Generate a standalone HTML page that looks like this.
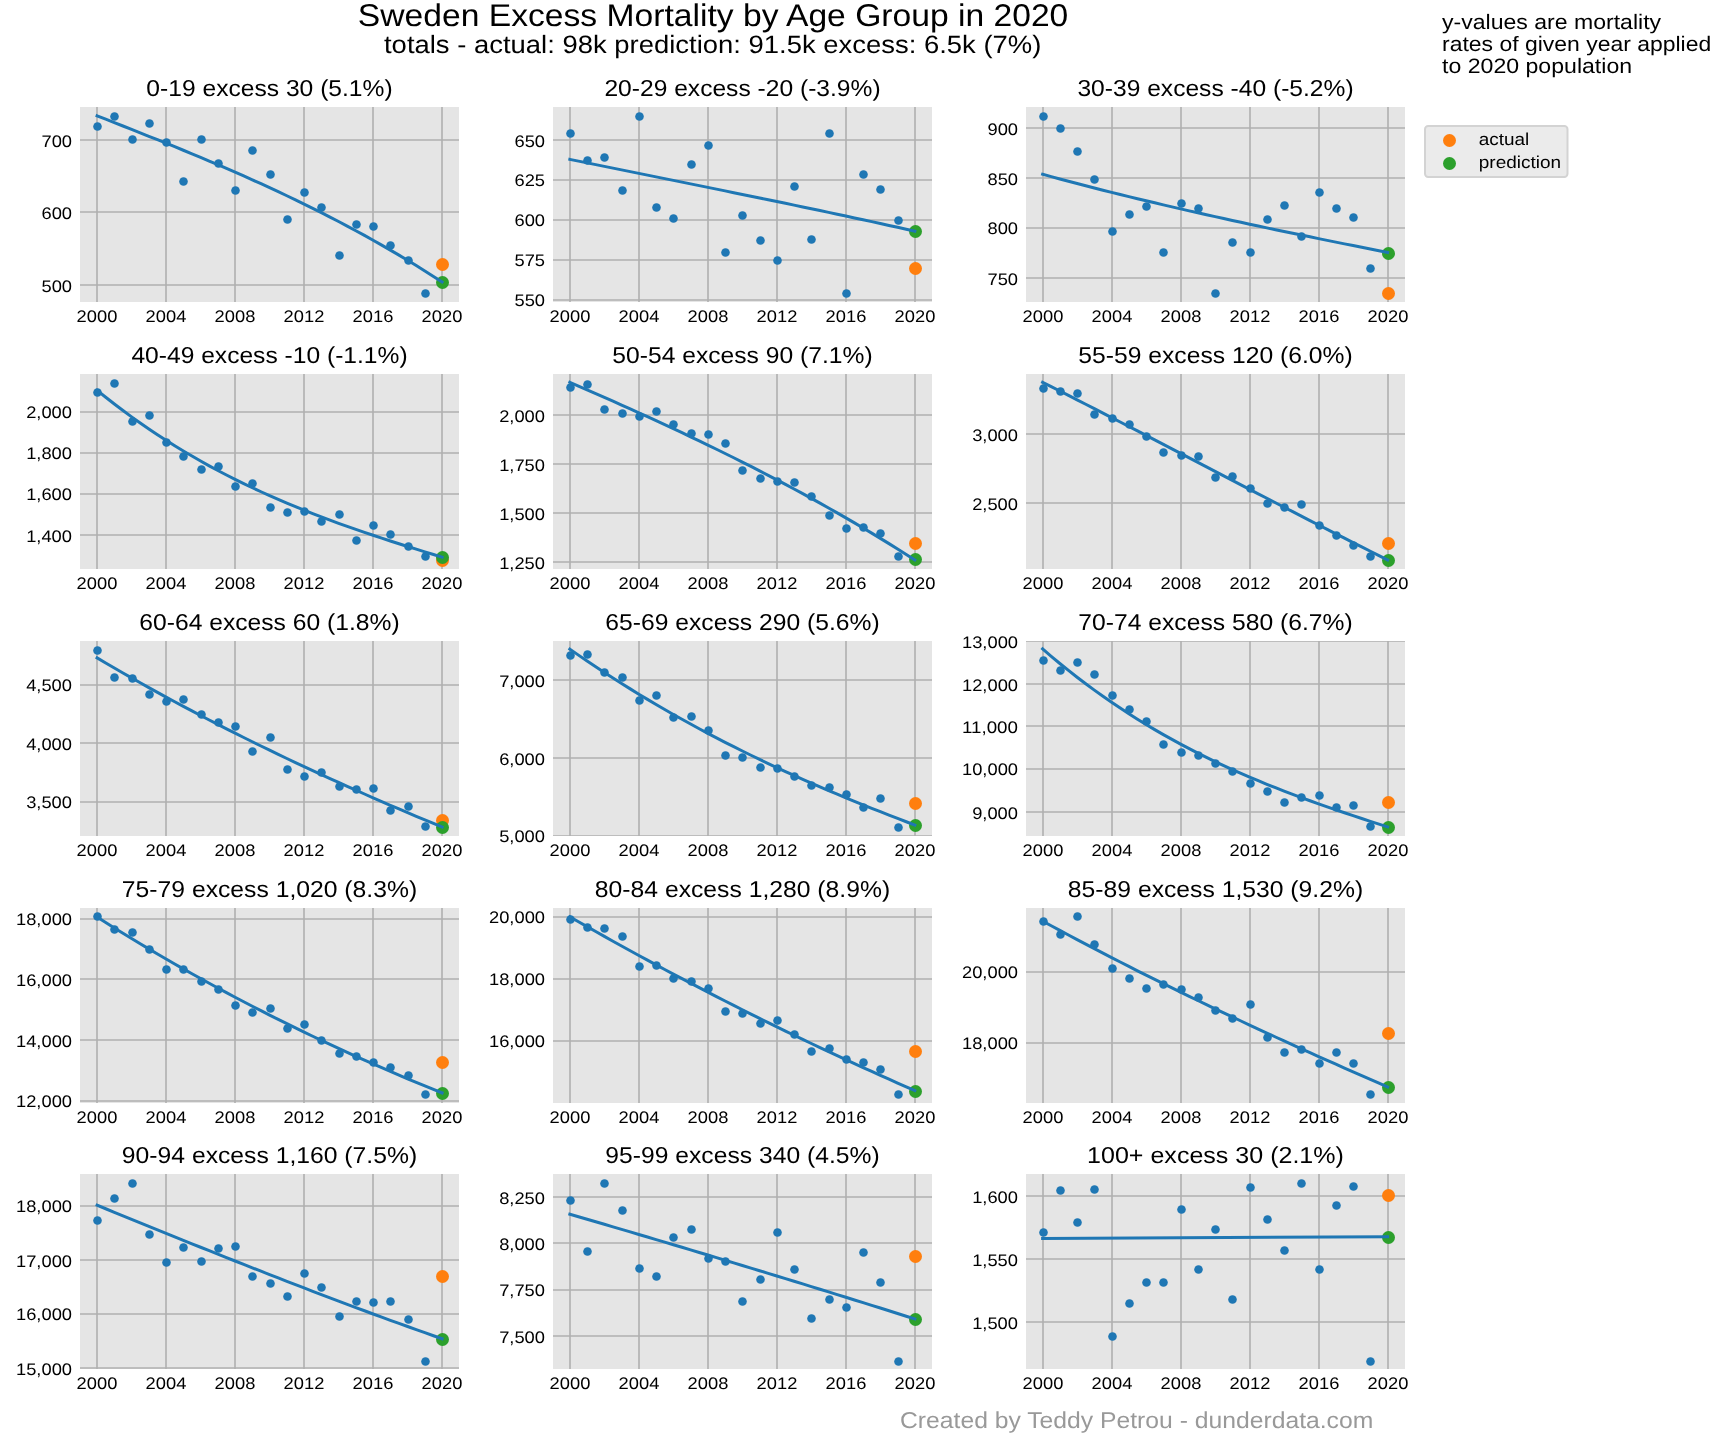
<!DOCTYPE html>
<html><head><meta charset="utf-8"><title>Sweden Excess Mortality by Age Group in 2020</title>
<style>
html,body{margin:0;padding:0;background:#fff;overflow:hidden;}
svg{display:block;will-change:transform;}
text{font-family:"Liberation Sans",sans-serif;text-rendering:geometricPrecision;}
</style></head>
<body>
<svg width="1726" height="1446" viewBox="0 0 1726 1446">
<rect x="0" y="0" width="1726" height="1446" fill="#ffffff"/>
<g>
<rect x="80" y="107" width="379" height="195" fill="#e5e5e5"/>
<clipPath id="c00"><rect x="80" y="107" width="379" height="195"/></clipPath>
<path d="M97.00,107V302M166.00,107V302M235.00,107V302M304.00,107V302M373.00,107V302M442.00,107V302M80,140H459M80,212H459M80,285H459" stroke="#b0b0b0" stroke-width="1.6" fill="none" clip-path="url(#c00)"/>
<circle cx="97.50" cy="126.50" r="4.3" fill="#1f77b4"/>
<circle cx="114.50" cy="116.50" r="4.3" fill="#1f77b4"/>
<circle cx="132.50" cy="139.50" r="4.3" fill="#1f77b4"/>
<circle cx="149.50" cy="123.50" r="4.3" fill="#1f77b4"/>
<circle cx="166.50" cy="142.50" r="4.3" fill="#1f77b4"/>
<circle cx="183.50" cy="181.50" r="4.3" fill="#1f77b4"/>
<circle cx="201.50" cy="139.50" r="4.3" fill="#1f77b4"/>
<circle cx="218.50" cy="163.50" r="4.3" fill="#1f77b4"/>
<circle cx="235.50" cy="190.50" r="4.3" fill="#1f77b4"/>
<circle cx="252.50" cy="150.50" r="4.3" fill="#1f77b4"/>
<circle cx="270.50" cy="174.50" r="4.3" fill="#1f77b4"/>
<circle cx="287.50" cy="219.50" r="4.3" fill="#1f77b4"/>
<circle cx="304.50" cy="192.50" r="4.3" fill="#1f77b4"/>
<circle cx="321.50" cy="207.50" r="4.3" fill="#1f77b4"/>
<circle cx="339.50" cy="255.50" r="4.3" fill="#1f77b4"/>
<circle cx="356.50" cy="224.50" r="4.3" fill="#1f77b4"/>
<circle cx="373.50" cy="226.50" r="4.3" fill="#1f77b4"/>
<circle cx="390.50" cy="245.50" r="4.3" fill="#1f77b4"/>
<circle cx="408.50" cy="260.50" r="4.3" fill="#1f77b4"/>
<circle cx="425.50" cy="293.50" r="4.3" fill="#1f77b4"/>
<circle cx="442.50" cy="264.50" r="6.5" fill="#ff7f0e"/>
<circle cx="442.50" cy="282.50" r="6.5" fill="#2ca02c"/>
<path d="M97.10,115.79 L105.72,119.18 L114.35,122.58 L122.97,125.98 L131.60,129.39 L140.22,132.82 L148.85,136.27 L157.47,139.73 L166.10,143.22 L174.72,146.73 L183.35,150.26 L191.97,153.83 L200.60,157.43 L209.22,161.06 L217.85,164.73 L226.47,168.44 L235.10,172.19 L243.72,175.99 L252.35,179.84 L260.98,183.74 L269.60,187.69 L278.23,191.70 L286.85,195.76 L295.48,199.89 L304.10,204.08 L312.73,208.34 L321.35,212.66 L329.98,217.06 L338.60,221.53 L347.23,226.08 L355.85,230.71 L364.48,235.43 L373.10,240.22 L381.73,245.11 L390.35,250.08 L398.98,255.15 L407.60,260.31 L416.23,265.57 L424.85,270.94 L433.48,276.40 L442.10,281.97" stroke="#1f77b4" stroke-width="3" fill="none" stroke-linecap="square"/>
<text x="76.64" y="322.00" font-size="16.72" textLength="40.72" lengthAdjust="spacingAndGlyphs" fill="#000">2000</text>
<text x="145.64" y="322.00" font-size="16.72" textLength="40.72" lengthAdjust="spacingAndGlyphs" fill="#000">2004</text>
<text x="214.64" y="322.00" font-size="16.72" textLength="40.72" lengthAdjust="spacingAndGlyphs" fill="#000">2008</text>
<text x="283.64" y="322.00" font-size="16.72" textLength="40.72" lengthAdjust="spacingAndGlyphs" fill="#000">2012</text>
<text x="352.64" y="322.00" font-size="16.72" textLength="40.72" lengthAdjust="spacingAndGlyphs" fill="#000">2016</text>
<text x="421.64" y="322.00" font-size="16.72" textLength="40.72" lengthAdjust="spacingAndGlyphs" fill="#000">2020</text>
<text x="41.46" y="146.50" font-size="16.72" textLength="30.54" lengthAdjust="spacingAndGlyphs" fill="#000">700</text>
<text x="41.46" y="218.55" font-size="16.72" textLength="30.54" lengthAdjust="spacingAndGlyphs" fill="#000">600</text>
<text x="41.46" y="291.59" font-size="16.72" textLength="30.54" lengthAdjust="spacingAndGlyphs" fill="#000">500</text>
<text x="146.35" y="95.50" font-size="22.99" textLength="246.30" lengthAdjust="spacingAndGlyphs" fill="#000">0-19 excess 30 (5.1%)</text>
</g>
<g>
<rect x="553" y="107" width="379" height="195" fill="#e5e5e5"/>
<clipPath id="c01"><rect x="553" y="107" width="379" height="195"/></clipPath>
<path d="M570.00,107V302M639.00,107V302M708.00,107V302M777.00,107V302M846.00,107V302M915.00,107V302M553,140H932M553,180H932M553,220H932M553,260H932M553,300H932" stroke="#b0b0b0" stroke-width="1.6" fill="none" clip-path="url(#c01)"/>
<circle cx="570.50" cy="133.50" r="4.3" fill="#1f77b4"/>
<circle cx="587.50" cy="160.50" r="4.3" fill="#1f77b4"/>
<circle cx="604.50" cy="157.50" r="4.3" fill="#1f77b4"/>
<circle cx="622.50" cy="190.50" r="4.3" fill="#1f77b4"/>
<circle cx="639.50" cy="116.50" r="4.3" fill="#1f77b4"/>
<circle cx="656.50" cy="207.50" r="4.3" fill="#1f77b4"/>
<circle cx="673.50" cy="218.50" r="4.3" fill="#1f77b4"/>
<circle cx="691.50" cy="164.50" r="4.3" fill="#1f77b4"/>
<circle cx="708.50" cy="145.50" r="4.3" fill="#1f77b4"/>
<circle cx="725.50" cy="252.50" r="4.3" fill="#1f77b4"/>
<circle cx="742.50" cy="215.50" r="4.3" fill="#1f77b4"/>
<circle cx="760.50" cy="240.50" r="4.3" fill="#1f77b4"/>
<circle cx="777.50" cy="260.50" r="4.3" fill="#1f77b4"/>
<circle cx="794.50" cy="186.50" r="4.3" fill="#1f77b4"/>
<circle cx="811.50" cy="239.50" r="4.3" fill="#1f77b4"/>
<circle cx="829.50" cy="133.50" r="4.3" fill="#1f77b4"/>
<circle cx="846.50" cy="293.50" r="4.3" fill="#1f77b4"/>
<circle cx="863.50" cy="174.50" r="4.3" fill="#1f77b4"/>
<circle cx="880.50" cy="189.50" r="4.3" fill="#1f77b4"/>
<circle cx="898.50" cy="220.50" r="4.3" fill="#1f77b4"/>
<circle cx="915.50" cy="268.50" r="6.5" fill="#ff7f0e"/>
<circle cx="915.50" cy="231.50" r="6.5" fill="#2ca02c"/>
<path d="M569.85,159.37 L578.48,161.14 L587.10,162.89 L595.73,164.65 L604.35,166.40 L612.98,168.15 L621.60,169.90 L630.23,171.65 L638.85,173.40 L647.48,175.14 L656.10,176.89 L664.73,178.63 L673.35,180.38 L681.98,182.13 L690.60,183.88 L699.23,185.63 L707.85,187.38 L716.48,189.14 L725.10,190.90 L733.73,192.66 L742.35,194.43 L750.98,196.20 L759.60,197.97 L768.23,199.75 L776.85,201.54 L785.48,203.33 L794.10,205.13 L802.73,206.93 L811.35,208.74 L819.98,210.56 L828.60,212.39 L837.23,214.22 L845.85,216.07 L854.48,217.92 L863.10,219.78 L871.73,221.65 L880.35,223.53 L888.98,225.43 L897.60,227.33 L906.23,229.24 L914.85,231.17" stroke="#1f77b4" stroke-width="3" fill="none" stroke-linecap="square"/>
<text x="549.64" y="322.00" font-size="16.72" textLength="40.72" lengthAdjust="spacingAndGlyphs" fill="#000">2000</text>
<text x="618.64" y="322.00" font-size="16.72" textLength="40.72" lengthAdjust="spacingAndGlyphs" fill="#000">2004</text>
<text x="687.64" y="322.00" font-size="16.72" textLength="40.72" lengthAdjust="spacingAndGlyphs" fill="#000">2008</text>
<text x="756.64" y="322.00" font-size="16.72" textLength="40.72" lengthAdjust="spacingAndGlyphs" fill="#000">2012</text>
<text x="825.64" y="322.00" font-size="16.72" textLength="40.72" lengthAdjust="spacingAndGlyphs" fill="#000">2016</text>
<text x="894.64" y="322.00" font-size="16.72" textLength="40.72" lengthAdjust="spacingAndGlyphs" fill="#000">2020</text>
<text x="514.46" y="146.50" font-size="16.72" textLength="30.54" lengthAdjust="spacingAndGlyphs" fill="#000">650</text>
<text x="514.46" y="186.40" font-size="16.72" textLength="30.54" lengthAdjust="spacingAndGlyphs" fill="#000">625</text>
<text x="514.46" y="226.43" font-size="16.72" textLength="30.54" lengthAdjust="spacingAndGlyphs" fill="#000">600</text>
<text x="514.46" y="266.45" font-size="16.72" textLength="30.54" lengthAdjust="spacingAndGlyphs" fill="#000">575</text>
<text x="514.46" y="306.47" font-size="16.72" textLength="30.54" lengthAdjust="spacingAndGlyphs" fill="#000">550</text>
<text x="604.41" y="95.50" font-size="22.99" textLength="276.17" lengthAdjust="spacingAndGlyphs" fill="#000">20-29 excess -20 (-3.9%)</text>
</g>
<g>
<rect x="1026" y="107" width="379" height="195" fill="#e5e5e5"/>
<clipPath id="c02"><rect x="1026" y="107" width="379" height="195"/></clipPath>
<path d="M1043.00,107V302M1112.00,107V302M1181.00,107V302M1250.00,107V302M1319.00,107V302M1388.00,107V302M1026,128H1405M1026,178H1405M1026,228H1405M1026,278H1405" stroke="#b0b0b0" stroke-width="1.6" fill="none" clip-path="url(#c02)"/>
<circle cx="1043.50" cy="116.50" r="4.3" fill="#1f77b4"/>
<circle cx="1060.50" cy="128.50" r="4.3" fill="#1f77b4"/>
<circle cx="1077.50" cy="151.50" r="4.3" fill="#1f77b4"/>
<circle cx="1094.50" cy="179.50" r="4.3" fill="#1f77b4"/>
<circle cx="1112.50" cy="231.50" r="4.3" fill="#1f77b4"/>
<circle cx="1129.50" cy="214.50" r="4.3" fill="#1f77b4"/>
<circle cx="1146.50" cy="206.50" r="4.3" fill="#1f77b4"/>
<circle cx="1163.50" cy="252.50" r="4.3" fill="#1f77b4"/>
<circle cx="1181.50" cy="203.50" r="4.3" fill="#1f77b4"/>
<circle cx="1198.50" cy="208.50" r="4.3" fill="#1f77b4"/>
<circle cx="1215.50" cy="293.50" r="4.3" fill="#1f77b4"/>
<circle cx="1232.50" cy="242.50" r="4.3" fill="#1f77b4"/>
<circle cx="1250.50" cy="252.50" r="4.3" fill="#1f77b4"/>
<circle cx="1267.50" cy="219.50" r="4.3" fill="#1f77b4"/>
<circle cx="1284.50" cy="205.50" r="4.3" fill="#1f77b4"/>
<circle cx="1301.50" cy="236.50" r="4.3" fill="#1f77b4"/>
<circle cx="1319.50" cy="192.50" r="4.3" fill="#1f77b4"/>
<circle cx="1336.50" cy="208.50" r="4.3" fill="#1f77b4"/>
<circle cx="1353.50" cy="217.50" r="4.3" fill="#1f77b4"/>
<circle cx="1370.50" cy="268.50" r="4.3" fill="#1f77b4"/>
<circle cx="1388.50" cy="293.50" r="6.5" fill="#ff7f0e"/>
<circle cx="1388.50" cy="253.50" r="6.5" fill="#2ca02c"/>
<path d="M1042.60,174.28 L1051.22,176.64 L1059.85,178.96 L1068.47,181.26 L1077.10,183.53 L1085.72,185.77 L1094.35,187.99 L1102.97,190.18 L1111.60,192.35 L1120.22,194.49 L1128.85,196.61 L1137.47,198.71 L1146.10,200.78 L1154.72,202.83 L1163.35,204.86 L1171.97,206.87 L1180.60,208.87 L1189.22,210.84 L1197.85,212.79 L1206.47,214.73 L1215.10,216.65 L1223.72,218.55 L1232.35,220.44 L1240.97,222.31 L1249.60,224.17 L1258.22,226.01 L1266.85,227.85 L1275.47,229.66 L1284.10,231.47 L1292.72,233.27 L1301.35,235.05 L1309.97,236.83 L1318.60,238.60 L1327.22,240.36 L1335.85,242.11 L1344.47,243.85 L1353.10,245.59 L1361.72,247.32 L1370.35,249.04 L1378.97,250.77 L1387.60,252.48" stroke="#1f77b4" stroke-width="3" fill="none" stroke-linecap="square"/>
<text x="1022.64" y="322.00" font-size="16.72" textLength="40.72" lengthAdjust="spacingAndGlyphs" fill="#000">2000</text>
<text x="1091.64" y="322.00" font-size="16.72" textLength="40.72" lengthAdjust="spacingAndGlyphs" fill="#000">2004</text>
<text x="1160.64" y="322.00" font-size="16.72" textLength="40.72" lengthAdjust="spacingAndGlyphs" fill="#000">2008</text>
<text x="1229.64" y="322.00" font-size="16.72" textLength="40.72" lengthAdjust="spacingAndGlyphs" fill="#000">2012</text>
<text x="1298.64" y="322.00" font-size="16.72" textLength="40.72" lengthAdjust="spacingAndGlyphs" fill="#000">2016</text>
<text x="1367.64" y="322.00" font-size="16.72" textLength="40.72" lengthAdjust="spacingAndGlyphs" fill="#000">2020</text>
<text x="987.46" y="134.50" font-size="16.72" textLength="30.54" lengthAdjust="spacingAndGlyphs" fill="#000">900</text>
<text x="987.46" y="184.53" font-size="16.72" textLength="30.54" lengthAdjust="spacingAndGlyphs" fill="#000">850</text>
<text x="987.46" y="234.43" font-size="16.72" textLength="30.54" lengthAdjust="spacingAndGlyphs" fill="#000">800</text>
<text x="987.46" y="284.58" font-size="16.72" textLength="30.54" lengthAdjust="spacingAndGlyphs" fill="#000">750</text>
<text x="1077.41" y="95.50" font-size="22.99" textLength="276.17" lengthAdjust="spacingAndGlyphs" fill="#000">30-39 excess -40 (-5.2%)</text>
</g>
<g>
<rect x="80" y="374" width="379" height="195" fill="#e5e5e5"/>
<clipPath id="c10"><rect x="80" y="374" width="379" height="195"/></clipPath>
<path d="M97.00,374V569M166.00,374V569M235.00,374V569M304.00,374V569M373.00,374V569M442.00,374V569M80,412H459M80,453H459M80,494H459M80,535H459" stroke="#b0b0b0" stroke-width="1.6" fill="none" clip-path="url(#c10)"/>
<circle cx="97.50" cy="392.50" r="4.3" fill="#1f77b4"/>
<circle cx="114.50" cy="383.50" r="4.3" fill="#1f77b4"/>
<circle cx="132.50" cy="421.50" r="4.3" fill="#1f77b4"/>
<circle cx="149.50" cy="415.50" r="4.3" fill="#1f77b4"/>
<circle cx="166.50" cy="442.50" r="4.3" fill="#1f77b4"/>
<circle cx="183.50" cy="456.50" r="4.3" fill="#1f77b4"/>
<circle cx="201.50" cy="469.50" r="4.3" fill="#1f77b4"/>
<circle cx="218.50" cy="466.50" r="4.3" fill="#1f77b4"/>
<circle cx="235.50" cy="486.50" r="4.3" fill="#1f77b4"/>
<circle cx="252.50" cy="483.50" r="4.3" fill="#1f77b4"/>
<circle cx="270.50" cy="507.50" r="4.3" fill="#1f77b4"/>
<circle cx="287.50" cy="512.50" r="4.3" fill="#1f77b4"/>
<circle cx="304.50" cy="511.50" r="4.3" fill="#1f77b4"/>
<circle cx="321.50" cy="521.50" r="4.3" fill="#1f77b4"/>
<circle cx="339.50" cy="514.50" r="4.3" fill="#1f77b4"/>
<circle cx="356.50" cy="540.50" r="4.3" fill="#1f77b4"/>
<circle cx="373.50" cy="525.50" r="4.3" fill="#1f77b4"/>
<circle cx="390.50" cy="534.50" r="4.3" fill="#1f77b4"/>
<circle cx="408.50" cy="546.50" r="4.3" fill="#1f77b4"/>
<circle cx="425.50" cy="556.50" r="4.3" fill="#1f77b4"/>
<circle cx="442.50" cy="560.50" r="6.5" fill="#ff7f0e"/>
<circle cx="442.50" cy="557.50" r="6.5" fill="#2ca02c"/>
<path d="M97.10,390.37 L105.72,397.29 L114.35,404.00 L122.97,410.52 L131.60,416.84 L140.22,422.97 L148.85,428.92 L157.47,434.69 L166.10,440.28 L174.72,445.71 L183.35,450.97 L191.97,456.07 L200.60,461.02 L209.22,465.82 L217.85,470.48 L226.47,474.99 L235.10,479.37 L243.72,483.62 L252.35,487.75 L260.98,491.76 L269.60,495.65 L278.23,499.44 L286.85,503.12 L295.48,506.70 L304.10,510.19 L312.73,513.58 L321.35,516.90 L329.98,520.13 L338.60,523.29 L347.23,526.38 L355.85,529.40 L364.48,532.37 L373.10,535.28 L381.73,538.14 L390.35,540.96 L398.98,543.73 L407.60,546.48 L416.23,549.19 L424.85,551.88 L433.48,554.55 L442.10,557.20" stroke="#1f77b4" stroke-width="3" fill="none" stroke-linecap="square"/>
<text x="76.64" y="589.00" font-size="16.72" textLength="40.72" lengthAdjust="spacingAndGlyphs" fill="#000">2000</text>
<text x="145.64" y="589.00" font-size="16.72" textLength="40.72" lengthAdjust="spacingAndGlyphs" fill="#000">2004</text>
<text x="214.64" y="589.00" font-size="16.72" textLength="40.72" lengthAdjust="spacingAndGlyphs" fill="#000">2008</text>
<text x="283.64" y="589.00" font-size="16.72" textLength="40.72" lengthAdjust="spacingAndGlyphs" fill="#000">2012</text>
<text x="352.64" y="589.00" font-size="16.72" textLength="40.72" lengthAdjust="spacingAndGlyphs" fill="#000">2016</text>
<text x="421.64" y="589.00" font-size="16.72" textLength="40.72" lengthAdjust="spacingAndGlyphs" fill="#000">2020</text>
<text x="26.20" y="418.38" font-size="16.72" textLength="45.80" lengthAdjust="spacingAndGlyphs" fill="#000">2,000</text>
<text x="26.20" y="459.41" font-size="16.72" textLength="45.80" lengthAdjust="spacingAndGlyphs" fill="#000">1,800</text>
<text x="26.20" y="500.43" font-size="16.72" textLength="45.80" lengthAdjust="spacingAndGlyphs" fill="#000">1,600</text>
<text x="26.20" y="541.58" font-size="16.72" textLength="45.80" lengthAdjust="spacingAndGlyphs" fill="#000">1,400</text>
<text x="131.41" y="362.50" font-size="22.99" textLength="276.17" lengthAdjust="spacingAndGlyphs" fill="#000">40-49 excess -10 (-1.1%)</text>
</g>
<g>
<rect x="553" y="374" width="379" height="195" fill="#e5e5e5"/>
<clipPath id="c11"><rect x="553" y="374" width="379" height="195"/></clipPath>
<path d="M570.00,374V569M639.00,374V569M708.00,374V569M777.00,374V569M846.00,374V569M915.00,374V569M553,415H932M553,464H932M553,513H932M553,562H932" stroke="#b0b0b0" stroke-width="1.6" fill="none" clip-path="url(#c11)"/>
<circle cx="570.50" cy="387.50" r="4.3" fill="#1f77b4"/>
<circle cx="587.50" cy="384.50" r="4.3" fill="#1f77b4"/>
<circle cx="604.50" cy="409.50" r="4.3" fill="#1f77b4"/>
<circle cx="622.50" cy="413.50" r="4.3" fill="#1f77b4"/>
<circle cx="639.50" cy="416.50" r="4.3" fill="#1f77b4"/>
<circle cx="656.50" cy="411.50" r="4.3" fill="#1f77b4"/>
<circle cx="673.50" cy="424.50" r="4.3" fill="#1f77b4"/>
<circle cx="691.50" cy="433.50" r="4.3" fill="#1f77b4"/>
<circle cx="708.50" cy="434.50" r="4.3" fill="#1f77b4"/>
<circle cx="725.50" cy="443.50" r="4.3" fill="#1f77b4"/>
<circle cx="742.50" cy="470.50" r="4.3" fill="#1f77b4"/>
<circle cx="760.50" cy="478.50" r="4.3" fill="#1f77b4"/>
<circle cx="777.50" cy="481.50" r="4.3" fill="#1f77b4"/>
<circle cx="794.50" cy="482.50" r="4.3" fill="#1f77b4"/>
<circle cx="811.50" cy="496.50" r="4.3" fill="#1f77b4"/>
<circle cx="829.50" cy="515.50" r="4.3" fill="#1f77b4"/>
<circle cx="846.50" cy="528.50" r="4.3" fill="#1f77b4"/>
<circle cx="863.50" cy="527.50" r="4.3" fill="#1f77b4"/>
<circle cx="880.50" cy="533.50" r="4.3" fill="#1f77b4"/>
<circle cx="898.50" cy="556.50" r="4.3" fill="#1f77b4"/>
<circle cx="915.50" cy="543.50" r="6.5" fill="#ff7f0e"/>
<circle cx="915.50" cy="559.50" r="6.5" fill="#2ca02c"/>
<path d="M569.85,382.26 L578.48,386.01 L587.10,389.78 L595.73,393.56 L604.35,397.36 L612.98,401.19 L621.60,405.04 L630.23,408.91 L638.85,412.80 L647.48,416.73 L656.10,420.68 L664.73,424.66 L673.35,428.68 L681.98,432.72 L690.60,436.80 L699.23,440.92 L707.85,445.08 L716.48,449.27 L725.10,453.50 L733.73,457.78 L742.35,462.10 L750.98,466.46 L759.60,470.87 L768.23,475.33 L776.85,479.84 L785.48,484.40 L794.10,489.01 L802.73,493.68 L811.35,498.40 L819.98,503.18 L828.60,508.02 L837.23,512.91 L845.85,517.87 L854.48,522.89 L863.10,527.98 L871.73,533.13 L880.35,538.35 L888.98,543.64 L897.60,548.99 L906.23,554.42 L914.85,559.93" stroke="#1f77b4" stroke-width="3" fill="none" stroke-linecap="square"/>
<text x="549.64" y="589.00" font-size="16.72" textLength="40.72" lengthAdjust="spacingAndGlyphs" fill="#000">2000</text>
<text x="618.64" y="589.00" font-size="16.72" textLength="40.72" lengthAdjust="spacingAndGlyphs" fill="#000">2004</text>
<text x="687.64" y="589.00" font-size="16.72" textLength="40.72" lengthAdjust="spacingAndGlyphs" fill="#000">2008</text>
<text x="756.64" y="589.00" font-size="16.72" textLength="40.72" lengthAdjust="spacingAndGlyphs" fill="#000">2012</text>
<text x="825.64" y="589.00" font-size="16.72" textLength="40.72" lengthAdjust="spacingAndGlyphs" fill="#000">2016</text>
<text x="894.64" y="589.00" font-size="16.72" textLength="40.72" lengthAdjust="spacingAndGlyphs" fill="#000">2020</text>
<text x="499.19" y="421.51" font-size="16.72" textLength="45.80" lengthAdjust="spacingAndGlyphs" fill="#000">2,000</text>
<text x="499.19" y="470.54" font-size="16.72" textLength="45.80" lengthAdjust="spacingAndGlyphs" fill="#000">1,750</text>
<text x="499.19" y="519.57" font-size="16.72" textLength="45.80" lengthAdjust="spacingAndGlyphs" fill="#000">1,500</text>
<text x="499.19" y="568.59" font-size="16.72" textLength="45.80" lengthAdjust="spacingAndGlyphs" fill="#000">1,250</text>
<text x="612.35" y="362.50" font-size="22.99" textLength="260.30" lengthAdjust="spacingAndGlyphs" fill="#000">50-54 excess 90 (7.1%)</text>
</g>
<g>
<rect x="1026" y="374" width="379" height="195" fill="#e5e5e5"/>
<clipPath id="c12"><rect x="1026" y="374" width="379" height="195"/></clipPath>
<path d="M1043.00,374V569M1112.00,374V569M1181.00,374V569M1250.00,374V569M1319.00,374V569M1388.00,374V569M1026,434H1405M1026,503H1405" stroke="#b0b0b0" stroke-width="1.6" fill="none" clip-path="url(#c12)"/>
<circle cx="1043.50" cy="388.50" r="4.3" fill="#1f77b4"/>
<circle cx="1060.50" cy="391.50" r="4.3" fill="#1f77b4"/>
<circle cx="1077.50" cy="393.50" r="4.3" fill="#1f77b4"/>
<circle cx="1094.50" cy="414.50" r="4.3" fill="#1f77b4"/>
<circle cx="1112.50" cy="418.50" r="4.3" fill="#1f77b4"/>
<circle cx="1129.50" cy="424.50" r="4.3" fill="#1f77b4"/>
<circle cx="1146.50" cy="436.50" r="4.3" fill="#1f77b4"/>
<circle cx="1163.50" cy="452.50" r="4.3" fill="#1f77b4"/>
<circle cx="1181.50" cy="455.50" r="4.3" fill="#1f77b4"/>
<circle cx="1198.50" cy="456.50" r="4.3" fill="#1f77b4"/>
<circle cx="1215.50" cy="477.50" r="4.3" fill="#1f77b4"/>
<circle cx="1232.50" cy="476.50" r="4.3" fill="#1f77b4"/>
<circle cx="1250.50" cy="488.50" r="4.3" fill="#1f77b4"/>
<circle cx="1267.50" cy="503.50" r="4.3" fill="#1f77b4"/>
<circle cx="1284.50" cy="507.50" r="4.3" fill="#1f77b4"/>
<circle cx="1301.50" cy="504.50" r="4.3" fill="#1f77b4"/>
<circle cx="1319.50" cy="525.50" r="4.3" fill="#1f77b4"/>
<circle cx="1336.50" cy="535.50" r="4.3" fill="#1f77b4"/>
<circle cx="1353.50" cy="545.50" r="4.3" fill="#1f77b4"/>
<circle cx="1370.50" cy="556.50" r="4.3" fill="#1f77b4"/>
<circle cx="1388.50" cy="543.50" r="6.5" fill="#ff7f0e"/>
<circle cx="1388.50" cy="560.50" r="6.5" fill="#2ca02c"/>
<path d="M1042.60,382.24 L1051.22,386.61 L1059.85,391.00 L1068.47,395.39 L1077.10,399.80 L1085.72,404.22 L1094.35,408.66 L1102.97,413.10 L1111.60,417.55 L1120.22,422.01 L1128.85,426.47 L1137.47,430.95 L1146.10,435.43 L1154.72,439.91 L1163.35,444.40 L1171.97,448.89 L1180.60,453.38 L1189.22,457.88 L1197.85,462.38 L1206.47,466.87 L1215.10,471.37 L1223.72,475.87 L1232.35,480.36 L1240.97,484.85 L1249.60,489.33 L1258.22,493.81 L1266.85,498.29 L1275.47,502.76 L1284.10,507.22 L1292.72,511.67 L1301.35,516.12 L1309.97,520.55 L1318.60,524.98 L1327.22,529.39 L1335.85,533.79 L1344.47,538.18 L1353.10,542.55 L1361.72,546.91 L1370.35,551.26 L1378.97,555.59 L1387.60,559.90" stroke="#1f77b4" stroke-width="3" fill="none" stroke-linecap="square"/>
<text x="1022.64" y="589.00" font-size="16.72" textLength="40.72" lengthAdjust="spacingAndGlyphs" fill="#000">2000</text>
<text x="1091.64" y="589.00" font-size="16.72" textLength="40.72" lengthAdjust="spacingAndGlyphs" fill="#000">2004</text>
<text x="1160.64" y="589.00" font-size="16.72" textLength="40.72" lengthAdjust="spacingAndGlyphs" fill="#000">2008</text>
<text x="1229.64" y="589.00" font-size="16.72" textLength="40.72" lengthAdjust="spacingAndGlyphs" fill="#000">2012</text>
<text x="1298.64" y="589.00" font-size="16.72" textLength="40.72" lengthAdjust="spacingAndGlyphs" fill="#000">2016</text>
<text x="1367.64" y="589.00" font-size="16.72" textLength="40.72" lengthAdjust="spacingAndGlyphs" fill="#000">2020</text>
<text x="972.20" y="440.52" font-size="16.72" textLength="45.80" lengthAdjust="spacingAndGlyphs" fill="#000">3,000</text>
<text x="972.20" y="509.56" font-size="16.72" textLength="45.80" lengthAdjust="spacingAndGlyphs" fill="#000">2,500</text>
<text x="1078.35" y="362.50" font-size="22.99" textLength="274.29" lengthAdjust="spacingAndGlyphs" fill="#000">55-59 excess 120 (6.0%)</text>
</g>
<g>
<rect x="80" y="641" width="379" height="195" fill="#e5e5e5"/>
<clipPath id="c20"><rect x="80" y="641" width="379" height="195"/></clipPath>
<path d="M97.00,641V836M166.00,641V836M235.00,641V836M304.00,641V836M373.00,641V836M442.00,641V836M80,685H459M80,743H459M80,802H459" stroke="#b0b0b0" stroke-width="1.6" fill="none" clip-path="url(#c20)"/>
<circle cx="97.50" cy="650.50" r="4.3" fill="#1f77b4"/>
<circle cx="114.50" cy="677.50" r="4.3" fill="#1f77b4"/>
<circle cx="132.50" cy="678.50" r="4.3" fill="#1f77b4"/>
<circle cx="149.50" cy="694.50" r="4.3" fill="#1f77b4"/>
<circle cx="166.50" cy="701.50" r="4.3" fill="#1f77b4"/>
<circle cx="183.50" cy="699.50" r="4.3" fill="#1f77b4"/>
<circle cx="201.50" cy="714.50" r="4.3" fill="#1f77b4"/>
<circle cx="218.50" cy="722.50" r="4.3" fill="#1f77b4"/>
<circle cx="235.50" cy="726.50" r="4.3" fill="#1f77b4"/>
<circle cx="252.50" cy="751.50" r="4.3" fill="#1f77b4"/>
<circle cx="270.50" cy="737.50" r="4.3" fill="#1f77b4"/>
<circle cx="287.50" cy="769.50" r="4.3" fill="#1f77b4"/>
<circle cx="304.50" cy="776.50" r="4.3" fill="#1f77b4"/>
<circle cx="321.50" cy="772.50" r="4.3" fill="#1f77b4"/>
<circle cx="339.50" cy="786.50" r="4.3" fill="#1f77b4"/>
<circle cx="356.50" cy="789.50" r="4.3" fill="#1f77b4"/>
<circle cx="373.50" cy="788.50" r="4.3" fill="#1f77b4"/>
<circle cx="390.50" cy="810.50" r="4.3" fill="#1f77b4"/>
<circle cx="408.50" cy="806.50" r="4.3" fill="#1f77b4"/>
<circle cx="425.50" cy="826.50" r="4.3" fill="#1f77b4"/>
<circle cx="442.50" cy="820.50" r="6.5" fill="#ff7f0e"/>
<circle cx="442.50" cy="827.50" r="6.5" fill="#2ca02c"/>
<path d="M97.10,657.89 L105.72,662.96 L114.35,667.99 L122.97,672.96 L131.60,677.88 L140.22,682.75 L148.85,687.57 L157.47,692.34 L166.10,697.06 L174.72,701.73 L183.35,706.36 L191.97,710.94 L200.60,715.48 L209.22,719.97 L217.85,724.41 L226.47,728.82 L235.10,733.18 L243.72,737.50 L252.35,741.77 L260.98,746.01 L269.60,750.21 L278.23,754.37 L286.85,758.49 L295.48,762.58 L304.10,766.62 L312.73,770.64 L321.35,774.61 L329.98,778.56 L338.60,782.47 L347.23,786.34 L355.85,790.19 L364.48,794.00 L373.10,797.79 L381.73,801.54 L390.35,805.27 L398.98,808.96 L407.60,812.63 L416.23,816.28 L424.85,819.89 L433.48,823.49 L442.10,827.05" stroke="#1f77b4" stroke-width="3" fill="none" stroke-linecap="square"/>
<text x="76.64" y="856.00" font-size="16.72" textLength="40.72" lengthAdjust="spacingAndGlyphs" fill="#000">2000</text>
<text x="145.64" y="856.00" font-size="16.72" textLength="40.72" lengthAdjust="spacingAndGlyphs" fill="#000">2004</text>
<text x="214.64" y="856.00" font-size="16.72" textLength="40.72" lengthAdjust="spacingAndGlyphs" fill="#000">2008</text>
<text x="283.64" y="856.00" font-size="16.72" textLength="40.72" lengthAdjust="spacingAndGlyphs" fill="#000">2012</text>
<text x="352.64" y="856.00" font-size="16.72" textLength="40.72" lengthAdjust="spacingAndGlyphs" fill="#000">2016</text>
<text x="421.64" y="856.00" font-size="16.72" textLength="40.72" lengthAdjust="spacingAndGlyphs" fill="#000">2020</text>
<text x="26.20" y="691.39" font-size="16.72" textLength="45.80" lengthAdjust="spacingAndGlyphs" fill="#000">4,500</text>
<text x="26.20" y="749.54" font-size="16.72" textLength="45.80" lengthAdjust="spacingAndGlyphs" fill="#000">4,000</text>
<text x="26.20" y="808.45" font-size="16.72" textLength="45.80" lengthAdjust="spacingAndGlyphs" fill="#000">3,500</text>
<text x="139.35" y="629.50" font-size="22.99" textLength="260.30" lengthAdjust="spacingAndGlyphs" fill="#000">60-64 excess 60 (1.8%)</text>
</g>
<g>
<rect x="553" y="641" width="379" height="195" fill="#e5e5e5"/>
<clipPath id="c21"><rect x="553" y="641" width="379" height="195"/></clipPath>
<path d="M570.00,641V836M639.00,641V836M708.00,641V836M777.00,641V836M846.00,641V836M915.00,641V836M553,680H932M553,758H932M553,836H932" stroke="#b0b0b0" stroke-width="1.6" fill="none" clip-path="url(#c21)"/>
<circle cx="570.50" cy="655.50" r="4.3" fill="#1f77b4"/>
<circle cx="587.50" cy="654.50" r="4.3" fill="#1f77b4"/>
<circle cx="604.50" cy="672.50" r="4.3" fill="#1f77b4"/>
<circle cx="622.50" cy="677.50" r="4.3" fill="#1f77b4"/>
<circle cx="639.50" cy="700.50" r="4.3" fill="#1f77b4"/>
<circle cx="656.50" cy="695.50" r="4.3" fill="#1f77b4"/>
<circle cx="673.50" cy="717.50" r="4.3" fill="#1f77b4"/>
<circle cx="691.50" cy="716.50" r="4.3" fill="#1f77b4"/>
<circle cx="708.50" cy="730.50" r="4.3" fill="#1f77b4"/>
<circle cx="725.50" cy="755.50" r="4.3" fill="#1f77b4"/>
<circle cx="742.50" cy="757.50" r="4.3" fill="#1f77b4"/>
<circle cx="760.50" cy="767.50" r="4.3" fill="#1f77b4"/>
<circle cx="777.50" cy="768.50" r="4.3" fill="#1f77b4"/>
<circle cx="794.50" cy="776.50" r="4.3" fill="#1f77b4"/>
<circle cx="811.50" cy="785.50" r="4.3" fill="#1f77b4"/>
<circle cx="829.50" cy="787.50" r="4.3" fill="#1f77b4"/>
<circle cx="846.50" cy="794.50" r="4.3" fill="#1f77b4"/>
<circle cx="863.50" cy="807.50" r="4.3" fill="#1f77b4"/>
<circle cx="880.50" cy="798.50" r="4.3" fill="#1f77b4"/>
<circle cx="898.50" cy="827.50" r="4.3" fill="#1f77b4"/>
<circle cx="915.50" cy="803.50" r="6.5" fill="#ff7f0e"/>
<circle cx="915.50" cy="825.50" r="6.5" fill="#2ca02c"/>
<path d="M569.85,649.13 L578.48,655.12 L587.10,661.00 L595.73,666.77 L604.35,672.45 L612.98,678.02 L621.60,683.50 L630.23,688.89 L638.85,694.18 L647.48,699.37 L656.10,704.48 L664.73,709.50 L673.35,714.43 L681.98,719.28 L690.60,724.05 L699.23,728.73 L707.85,733.34 L716.48,737.87 L725.10,742.32 L733.73,746.70 L742.35,751.01 L750.98,755.25 L759.60,759.42 L768.23,763.53 L776.85,767.57 L785.48,771.55 L794.10,775.47 L802.73,779.33 L811.35,783.13 L819.98,786.88 L828.60,790.57 L837.23,794.22 L845.85,797.81 L854.48,801.36 L863.10,804.86 L871.73,808.31 L880.35,811.73 L888.98,815.10 L897.60,818.44 L906.23,821.73 L914.85,825.00" stroke="#1f77b4" stroke-width="3" fill="none" stroke-linecap="square"/>
<text x="549.64" y="856.00" font-size="16.72" textLength="40.72" lengthAdjust="spacingAndGlyphs" fill="#000">2000</text>
<text x="618.64" y="856.00" font-size="16.72" textLength="40.72" lengthAdjust="spacingAndGlyphs" fill="#000">2004</text>
<text x="687.64" y="856.00" font-size="16.72" textLength="40.72" lengthAdjust="spacingAndGlyphs" fill="#000">2008</text>
<text x="756.64" y="856.00" font-size="16.72" textLength="40.72" lengthAdjust="spacingAndGlyphs" fill="#000">2012</text>
<text x="825.64" y="856.00" font-size="16.72" textLength="40.72" lengthAdjust="spacingAndGlyphs" fill="#000">2016</text>
<text x="894.64" y="856.00" font-size="16.72" textLength="40.72" lengthAdjust="spacingAndGlyphs" fill="#000">2020</text>
<text x="499.19" y="686.51" font-size="16.72" textLength="45.80" lengthAdjust="spacingAndGlyphs" fill="#000">7,000</text>
<text x="499.19" y="764.68" font-size="16.72" textLength="45.80" lengthAdjust="spacingAndGlyphs" fill="#000">6,000</text>
<text x="499.19" y="842.47" font-size="16.72" textLength="45.80" lengthAdjust="spacingAndGlyphs" fill="#000">5,000</text>
<text x="605.35" y="629.50" font-size="22.99" textLength="274.29" lengthAdjust="spacingAndGlyphs" fill="#000">65-69 excess 290 (5.6%)</text>
</g>
<g>
<rect x="1026" y="641" width="379" height="195" fill="#e5e5e5"/>
<clipPath id="c22"><rect x="1026" y="641" width="379" height="195"/></clipPath>
<path d="M1043.00,641V836M1112.00,641V836M1181.00,641V836M1250.00,641V836M1319.00,641V836M1388.00,641V836M1026,641H1405M1026,684H1405M1026,726H1405M1026,769H1405M1026,812H1405" stroke="#b0b0b0" stroke-width="1.6" fill="none" clip-path="url(#c22)"/>
<circle cx="1043.50" cy="660.50" r="4.3" fill="#1f77b4"/>
<circle cx="1060.50" cy="670.50" r="4.3" fill="#1f77b4"/>
<circle cx="1077.50" cy="662.50" r="4.3" fill="#1f77b4"/>
<circle cx="1094.50" cy="674.50" r="4.3" fill="#1f77b4"/>
<circle cx="1112.50" cy="695.50" r="4.3" fill="#1f77b4"/>
<circle cx="1129.50" cy="709.50" r="4.3" fill="#1f77b4"/>
<circle cx="1146.50" cy="721.50" r="4.3" fill="#1f77b4"/>
<circle cx="1163.50" cy="744.50" r="4.3" fill="#1f77b4"/>
<circle cx="1181.50" cy="752.50" r="4.3" fill="#1f77b4"/>
<circle cx="1198.50" cy="755.50" r="4.3" fill="#1f77b4"/>
<circle cx="1215.50" cy="763.50" r="4.3" fill="#1f77b4"/>
<circle cx="1232.50" cy="771.50" r="4.3" fill="#1f77b4"/>
<circle cx="1250.50" cy="783.50" r="4.3" fill="#1f77b4"/>
<circle cx="1267.50" cy="791.50" r="4.3" fill="#1f77b4"/>
<circle cx="1284.50" cy="802.50" r="4.3" fill="#1f77b4"/>
<circle cx="1301.50" cy="797.50" r="4.3" fill="#1f77b4"/>
<circle cx="1319.50" cy="795.50" r="4.3" fill="#1f77b4"/>
<circle cx="1336.50" cy="807.50" r="4.3" fill="#1f77b4"/>
<circle cx="1353.50" cy="805.50" r="4.3" fill="#1f77b4"/>
<circle cx="1370.50" cy="826.50" r="4.3" fill="#1f77b4"/>
<circle cx="1388.50" cy="802.50" r="6.5" fill="#ff7f0e"/>
<circle cx="1388.50" cy="827.50" r="6.5" fill="#2ca02c"/>
<path d="M1042.60,648.93 L1051.22,656.31 L1059.85,663.48 L1068.47,670.44 L1077.10,677.20 L1085.72,683.75 L1094.35,690.11 L1102.97,696.28 L1111.60,702.27 L1120.22,708.07 L1128.85,713.71 L1137.47,719.17 L1146.10,724.47 L1154.72,729.61 L1163.35,734.60 L1171.97,739.43 L1180.60,744.13 L1189.22,748.68 L1197.85,753.10 L1206.47,757.40 L1215.10,761.57 L1223.72,765.62 L1232.35,769.56 L1240.97,773.39 L1249.60,777.11 L1258.22,780.74 L1266.85,784.28 L1275.47,787.72 L1284.10,791.09 L1292.72,794.38 L1301.35,797.59 L1309.97,800.74 L1318.60,803.82 L1327.22,806.85 L1335.85,809.83 L1344.47,812.76 L1353.10,815.64 L1361.72,818.49 L1370.35,821.31 L1378.97,824.10 L1387.60,826.87" stroke="#1f77b4" stroke-width="3" fill="none" stroke-linecap="square"/>
<text x="1022.64" y="856.00" font-size="16.72" textLength="40.72" lengthAdjust="spacingAndGlyphs" fill="#000">2000</text>
<text x="1091.64" y="856.00" font-size="16.72" textLength="40.72" lengthAdjust="spacingAndGlyphs" fill="#000">2004</text>
<text x="1160.64" y="856.00" font-size="16.72" textLength="40.72" lengthAdjust="spacingAndGlyphs" fill="#000">2008</text>
<text x="1229.64" y="856.00" font-size="16.72" textLength="40.72" lengthAdjust="spacingAndGlyphs" fill="#000">2012</text>
<text x="1298.64" y="856.00" font-size="16.72" textLength="40.72" lengthAdjust="spacingAndGlyphs" fill="#000">2016</text>
<text x="1367.64" y="856.00" font-size="16.72" textLength="40.72" lengthAdjust="spacingAndGlyphs" fill="#000">2020</text>
<text x="962.02" y="647.61" font-size="16.72" textLength="55.98" lengthAdjust="spacingAndGlyphs" fill="#000">13,000</text>
<text x="962.02" y="690.51" font-size="16.72" textLength="55.98" lengthAdjust="spacingAndGlyphs" fill="#000">12,000</text>
<text x="962.02" y="732.53" font-size="16.72" textLength="55.98" lengthAdjust="spacingAndGlyphs" fill="#000">11,000</text>
<text x="962.02" y="775.43" font-size="16.72" textLength="55.98" lengthAdjust="spacingAndGlyphs" fill="#000">10,000</text>
<text x="972.20" y="818.58" font-size="16.72" textLength="45.80" lengthAdjust="spacingAndGlyphs" fill="#000">9,000</text>
<text x="1078.35" y="629.50" font-size="22.99" textLength="274.29" lengthAdjust="spacingAndGlyphs" fill="#000">70-74 excess 580 (6.7%)</text>
</g>
<g>
<rect x="80" y="908" width="379" height="195" fill="#e5e5e5"/>
<clipPath id="c30"><rect x="80" y="908" width="379" height="195"/></clipPath>
<path d="M97.00,908V1103M166.00,908V1103M235.00,908V1103M304.00,908V1103M373.00,908V1103M442.00,908V1103M80,919H459M80,979H459M80,1040H459M80,1101H459" stroke="#b0b0b0" stroke-width="1.6" fill="none" clip-path="url(#c30)"/>
<circle cx="97.50" cy="916.50" r="4.3" fill="#1f77b4"/>
<circle cx="114.50" cy="929.50" r="4.3" fill="#1f77b4"/>
<circle cx="132.50" cy="932.50" r="4.3" fill="#1f77b4"/>
<circle cx="149.50" cy="949.50" r="4.3" fill="#1f77b4"/>
<circle cx="166.50" cy="969.50" r="4.3" fill="#1f77b4"/>
<circle cx="183.50" cy="969.50" r="4.3" fill="#1f77b4"/>
<circle cx="201.50" cy="981.50" r="4.3" fill="#1f77b4"/>
<circle cx="218.50" cy="989.50" r="4.3" fill="#1f77b4"/>
<circle cx="235.50" cy="1005.50" r="4.3" fill="#1f77b4"/>
<circle cx="252.50" cy="1012.50" r="4.3" fill="#1f77b4"/>
<circle cx="270.50" cy="1008.50" r="4.3" fill="#1f77b4"/>
<circle cx="287.50" cy="1028.50" r="4.3" fill="#1f77b4"/>
<circle cx="304.50" cy="1024.50" r="4.3" fill="#1f77b4"/>
<circle cx="321.50" cy="1040.50" r="4.3" fill="#1f77b4"/>
<circle cx="339.50" cy="1053.50" r="4.3" fill="#1f77b4"/>
<circle cx="356.50" cy="1056.50" r="4.3" fill="#1f77b4"/>
<circle cx="373.50" cy="1062.50" r="4.3" fill="#1f77b4"/>
<circle cx="390.50" cy="1067.50" r="4.3" fill="#1f77b4"/>
<circle cx="408.50" cy="1075.50" r="4.3" fill="#1f77b4"/>
<circle cx="425.50" cy="1094.50" r="4.3" fill="#1f77b4"/>
<circle cx="442.50" cy="1062.50" r="6.5" fill="#ff7f0e"/>
<circle cx="442.50" cy="1093.50" r="6.5" fill="#2ca02c"/>
<path d="M97.10,917.10 L105.72,922.54 L114.35,927.92 L122.97,933.24 L131.60,938.50 L140.22,943.70 L148.85,948.85 L157.47,953.93 L166.10,958.96 L174.72,963.94 L183.35,968.86 L191.97,973.72 L200.60,978.53 L209.22,983.28 L217.85,987.98 L226.47,992.63 L235.10,997.22 L243.72,1001.76 L252.35,1006.25 L260.98,1010.69 L269.60,1015.08 L278.23,1019.42 L286.85,1023.70 L295.48,1027.94 L304.10,1032.13 L312.73,1036.27 L321.35,1040.37 L329.98,1044.41 L338.60,1048.41 L347.23,1052.37 L355.85,1056.28 L364.48,1060.14 L373.10,1063.96 L381.73,1067.73 L390.35,1071.46 L398.98,1075.15 L407.60,1078.79 L416.23,1082.40 L424.85,1085.96 L433.48,1089.48 L442.10,1092.95" stroke="#1f77b4" stroke-width="3" fill="none" stroke-linecap="square"/>
<text x="76.64" y="1123.00" font-size="16.72" textLength="40.72" lengthAdjust="spacingAndGlyphs" fill="#000">2000</text>
<text x="145.64" y="1123.00" font-size="16.72" textLength="40.72" lengthAdjust="spacingAndGlyphs" fill="#000">2004</text>
<text x="214.64" y="1123.00" font-size="16.72" textLength="40.72" lengthAdjust="spacingAndGlyphs" fill="#000">2008</text>
<text x="283.64" y="1123.00" font-size="16.72" textLength="40.72" lengthAdjust="spacingAndGlyphs" fill="#000">2012</text>
<text x="352.64" y="1123.00" font-size="16.72" textLength="40.72" lengthAdjust="spacingAndGlyphs" fill="#000">2016</text>
<text x="421.64" y="1123.00" font-size="16.72" textLength="40.72" lengthAdjust="spacingAndGlyphs" fill="#000">2020</text>
<text x="16.02" y="925.37" font-size="16.72" textLength="55.98" lengthAdjust="spacingAndGlyphs" fill="#000">18,000</text>
<text x="16.02" y="985.53" font-size="16.72" textLength="55.98" lengthAdjust="spacingAndGlyphs" fill="#000">16,000</text>
<text x="16.02" y="1046.56" font-size="16.72" textLength="55.98" lengthAdjust="spacingAndGlyphs" fill="#000">14,000</text>
<text x="16.02" y="1107.47" font-size="16.72" textLength="55.98" lengthAdjust="spacingAndGlyphs" fill="#000">12,000</text>
<text x="121.86" y="896.50" font-size="22.99" textLength="295.28" lengthAdjust="spacingAndGlyphs" fill="#000">75-79 excess 1,020 (8.3%)</text>
</g>
<g>
<rect x="553" y="908" width="379" height="195" fill="#e5e5e5"/>
<clipPath id="c31"><rect x="553" y="908" width="379" height="195"/></clipPath>
<path d="M570.00,908V1103M639.00,908V1103M708.00,908V1103M777.00,908V1103M846.00,908V1103M915.00,908V1103M553,917H932M553,979H932M553,1041H932" stroke="#b0b0b0" stroke-width="1.6" fill="none" clip-path="url(#c31)"/>
<circle cx="570.50" cy="919.50" r="4.3" fill="#1f77b4"/>
<circle cx="587.50" cy="927.50" r="4.3" fill="#1f77b4"/>
<circle cx="604.50" cy="928.50" r="4.3" fill="#1f77b4"/>
<circle cx="622.50" cy="936.50" r="4.3" fill="#1f77b4"/>
<circle cx="639.50" cy="966.50" r="4.3" fill="#1f77b4"/>
<circle cx="656.50" cy="965.50" r="4.3" fill="#1f77b4"/>
<circle cx="673.50" cy="978.50" r="4.3" fill="#1f77b4"/>
<circle cx="691.50" cy="981.50" r="4.3" fill="#1f77b4"/>
<circle cx="708.50" cy="988.50" r="4.3" fill="#1f77b4"/>
<circle cx="725.50" cy="1011.50" r="4.3" fill="#1f77b4"/>
<circle cx="742.50" cy="1013.50" r="4.3" fill="#1f77b4"/>
<circle cx="760.50" cy="1023.50" r="4.3" fill="#1f77b4"/>
<circle cx="777.50" cy="1020.50" r="4.3" fill="#1f77b4"/>
<circle cx="794.50" cy="1034.50" r="4.3" fill="#1f77b4"/>
<circle cx="811.50" cy="1051.50" r="4.3" fill="#1f77b4"/>
<circle cx="829.50" cy="1048.50" r="4.3" fill="#1f77b4"/>
<circle cx="846.50" cy="1059.50" r="4.3" fill="#1f77b4"/>
<circle cx="863.50" cy="1062.50" r="4.3" fill="#1f77b4"/>
<circle cx="880.50" cy="1069.50" r="4.3" fill="#1f77b4"/>
<circle cx="898.50" cy="1094.50" r="4.3" fill="#1f77b4"/>
<circle cx="915.50" cy="1051.50" r="6.5" fill="#ff7f0e"/>
<circle cx="915.50" cy="1091.50" r="6.5" fill="#2ca02c"/>
<path d="M569.85,916.73 L578.48,921.69 L587.10,926.62 L595.73,931.51 L604.35,936.37 L612.98,941.20 L621.60,946.00 L630.23,950.76 L638.85,955.49 L647.48,960.19 L656.10,964.85 L664.73,969.49 L673.35,974.09 L681.98,978.66 L690.60,983.19 L699.23,987.70 L707.85,992.18 L716.48,996.62 L725.10,1001.03 L733.73,1005.42 L742.35,1009.77 L750.98,1014.09 L759.60,1018.38 L768.23,1022.64 L776.85,1026.87 L785.48,1031.07 L794.10,1035.24 L802.73,1039.38 L811.35,1043.49 L819.98,1047.57 L828.60,1051.62 L837.23,1055.65 L845.85,1059.64 L854.48,1063.61 L863.10,1067.55 L871.73,1071.45 L880.35,1075.33 L888.98,1079.19 L897.60,1083.01 L906.23,1086.81 L914.85,1090.58" stroke="#1f77b4" stroke-width="3" fill="none" stroke-linecap="square"/>
<text x="549.64" y="1123.00" font-size="16.72" textLength="40.72" lengthAdjust="spacingAndGlyphs" fill="#000">2000</text>
<text x="618.64" y="1123.00" font-size="16.72" textLength="40.72" lengthAdjust="spacingAndGlyphs" fill="#000">2004</text>
<text x="687.64" y="1123.00" font-size="16.72" textLength="40.72" lengthAdjust="spacingAndGlyphs" fill="#000">2008</text>
<text x="756.64" y="1123.00" font-size="16.72" textLength="40.72" lengthAdjust="spacingAndGlyphs" fill="#000">2012</text>
<text x="825.64" y="1123.00" font-size="16.72" textLength="40.72" lengthAdjust="spacingAndGlyphs" fill="#000">2016</text>
<text x="894.64" y="1123.00" font-size="16.72" textLength="40.72" lengthAdjust="spacingAndGlyphs" fill="#000">2020</text>
<text x="489.02" y="923.36" font-size="16.72" textLength="55.98" lengthAdjust="spacingAndGlyphs" fill="#000">20,000</text>
<text x="489.02" y="985.40" font-size="16.72" textLength="55.98" lengthAdjust="spacingAndGlyphs" fill="#000">18,000</text>
<text x="489.02" y="1047.44" font-size="16.72" textLength="55.98" lengthAdjust="spacingAndGlyphs" fill="#000">16,000</text>
<text x="594.86" y="896.50" font-size="22.99" textLength="295.28" lengthAdjust="spacingAndGlyphs" fill="#000">80-84 excess 1,280 (8.9%)</text>
</g>
<g>
<rect x="1026" y="908" width="379" height="195" fill="#e5e5e5"/>
<clipPath id="c32"><rect x="1026" y="908" width="379" height="195"/></clipPath>
<path d="M1043.00,908V1103M1112.00,908V1103M1181.00,908V1103M1250.00,908V1103M1319.00,908V1103M1388.00,908V1103M1026,972H1405M1026,1043H1405" stroke="#b0b0b0" stroke-width="1.6" fill="none" clip-path="url(#c32)"/>
<circle cx="1043.50" cy="921.50" r="4.3" fill="#1f77b4"/>
<circle cx="1060.50" cy="934.50" r="4.3" fill="#1f77b4"/>
<circle cx="1077.50" cy="916.50" r="4.3" fill="#1f77b4"/>
<circle cx="1094.50" cy="944.50" r="4.3" fill="#1f77b4"/>
<circle cx="1112.50" cy="968.50" r="4.3" fill="#1f77b4"/>
<circle cx="1129.50" cy="978.50" r="4.3" fill="#1f77b4"/>
<circle cx="1146.50" cy="988.50" r="4.3" fill="#1f77b4"/>
<circle cx="1163.50" cy="984.50" r="4.3" fill="#1f77b4"/>
<circle cx="1181.50" cy="989.50" r="4.3" fill="#1f77b4"/>
<circle cx="1198.50" cy="997.50" r="4.3" fill="#1f77b4"/>
<circle cx="1215.50" cy="1010.50" r="4.3" fill="#1f77b4"/>
<circle cx="1232.50" cy="1018.50" r="4.3" fill="#1f77b4"/>
<circle cx="1250.50" cy="1004.50" r="4.3" fill="#1f77b4"/>
<circle cx="1267.50" cy="1037.50" r="4.3" fill="#1f77b4"/>
<circle cx="1284.50" cy="1052.50" r="4.3" fill="#1f77b4"/>
<circle cx="1301.50" cy="1049.50" r="4.3" fill="#1f77b4"/>
<circle cx="1319.50" cy="1063.50" r="4.3" fill="#1f77b4"/>
<circle cx="1336.50" cy="1052.50" r="4.3" fill="#1f77b4"/>
<circle cx="1353.50" cy="1063.50" r="4.3" fill="#1f77b4"/>
<circle cx="1370.50" cy="1094.50" r="4.3" fill="#1f77b4"/>
<circle cx="1388.50" cy="1033.50" r="6.5" fill="#ff7f0e"/>
<circle cx="1388.50" cy="1087.50" r="6.5" fill="#2ca02c"/>
<path d="M1042.60,921.10 L1051.22,925.78 L1059.85,930.43 L1068.47,935.05 L1077.10,939.63 L1085.72,944.17 L1094.35,948.69 L1102.97,953.17 L1111.60,957.62 L1120.22,962.04 L1128.85,966.43 L1137.47,970.79 L1146.10,975.12 L1154.72,979.42 L1163.35,983.70 L1171.97,987.94 L1180.60,992.16 L1189.22,996.36 L1197.85,1000.52 L1206.47,1004.67 L1215.10,1008.79 L1223.72,1012.88 L1232.35,1016.95 L1240.97,1021.00 L1249.60,1025.03 L1258.22,1029.04 L1266.85,1033.02 L1275.47,1036.99 L1284.10,1040.94 L1292.72,1044.86 L1301.35,1048.77 L1309.97,1052.66 L1318.60,1056.54 L1327.22,1060.39 L1335.85,1064.24 L1344.47,1068.06 L1353.10,1071.87 L1361.72,1075.67 L1370.35,1079.45 L1378.97,1083.22 L1387.60,1086.98" stroke="#1f77b4" stroke-width="3" fill="none" stroke-linecap="square"/>
<text x="1022.64" y="1123.00" font-size="16.72" textLength="40.72" lengthAdjust="spacingAndGlyphs" fill="#000">2000</text>
<text x="1091.64" y="1123.00" font-size="16.72" textLength="40.72" lengthAdjust="spacingAndGlyphs" fill="#000">2004</text>
<text x="1160.64" y="1123.00" font-size="16.72" textLength="40.72" lengthAdjust="spacingAndGlyphs" fill="#000">2008</text>
<text x="1229.64" y="1123.00" font-size="16.72" textLength="40.72" lengthAdjust="spacingAndGlyphs" fill="#000">2012</text>
<text x="1298.64" y="1123.00" font-size="16.72" textLength="40.72" lengthAdjust="spacingAndGlyphs" fill="#000">2016</text>
<text x="1367.64" y="1123.00" font-size="16.72" textLength="40.72" lengthAdjust="spacingAndGlyphs" fill="#000">2020</text>
<text x="962.02" y="978.40" font-size="16.72" textLength="55.98" lengthAdjust="spacingAndGlyphs" fill="#000">20,000</text>
<text x="962.02" y="1049.44" font-size="16.72" textLength="55.98" lengthAdjust="spacingAndGlyphs" fill="#000">18,000</text>
<text x="1067.86" y="896.50" font-size="22.99" textLength="295.28" lengthAdjust="spacingAndGlyphs" fill="#000">85-89 excess 1,530 (9.2%)</text>
</g>
<g>
<rect x="80" y="1174" width="379" height="195" fill="#e5e5e5"/>
<clipPath id="c40"><rect x="80" y="1174" width="379" height="195"/></clipPath>
<path d="M97.00,1174V1369M166.00,1174V1369M235.00,1174V1369M304.00,1174V1369M373.00,1174V1369M442.00,1174V1369M80,1206H459M80,1260H459M80,1314H459M80,1368H459" stroke="#b0b0b0" stroke-width="1.6" fill="none" clip-path="url(#c40)"/>
<circle cx="97.50" cy="1220.50" r="4.3" fill="#1f77b4"/>
<circle cx="114.50" cy="1198.50" r="4.3" fill="#1f77b4"/>
<circle cx="132.50" cy="1183.50" r="4.3" fill="#1f77b4"/>
<circle cx="149.50" cy="1234.50" r="4.3" fill="#1f77b4"/>
<circle cx="166.50" cy="1262.50" r="4.3" fill="#1f77b4"/>
<circle cx="183.50" cy="1247.50" r="4.3" fill="#1f77b4"/>
<circle cx="201.50" cy="1261.50" r="4.3" fill="#1f77b4"/>
<circle cx="218.50" cy="1248.50" r="4.3" fill="#1f77b4"/>
<circle cx="235.50" cy="1246.50" r="4.3" fill="#1f77b4"/>
<circle cx="252.50" cy="1276.50" r="4.3" fill="#1f77b4"/>
<circle cx="270.50" cy="1283.50" r="4.3" fill="#1f77b4"/>
<circle cx="287.50" cy="1296.50" r="4.3" fill="#1f77b4"/>
<circle cx="304.50" cy="1273.50" r="4.3" fill="#1f77b4"/>
<circle cx="321.50" cy="1287.50" r="4.3" fill="#1f77b4"/>
<circle cx="339.50" cy="1316.50" r="4.3" fill="#1f77b4"/>
<circle cx="356.50" cy="1301.50" r="4.3" fill="#1f77b4"/>
<circle cx="373.50" cy="1302.50" r="4.3" fill="#1f77b4"/>
<circle cx="390.50" cy="1301.50" r="4.3" fill="#1f77b4"/>
<circle cx="408.50" cy="1319.50" r="4.3" fill="#1f77b4"/>
<circle cx="425.50" cy="1361.50" r="4.3" fill="#1f77b4"/>
<circle cx="442.50" cy="1276.50" r="6.5" fill="#ff7f0e"/>
<circle cx="442.50" cy="1339.50" r="6.5" fill="#2ca02c"/>
<path d="M97.10,1205.23 L105.72,1208.76 L114.35,1212.29 L122.97,1215.81 L131.60,1219.33 L140.22,1222.85 L148.85,1226.35 L157.47,1229.86 L166.10,1233.35 L174.72,1236.84 L183.35,1240.32 L191.97,1243.79 L200.60,1247.25 L209.22,1250.71 L217.85,1254.15 L226.47,1257.59 L235.10,1261.01 L243.72,1264.43 L252.35,1267.83 L260.98,1271.22 L269.60,1274.60 L278.23,1277.96 L286.85,1281.31 L295.48,1284.65 L304.10,1287.97 L312.73,1291.28 L321.35,1294.57 L329.98,1297.85 L338.60,1301.11 L347.23,1304.35 L355.85,1307.58 L364.48,1310.78 L373.10,1313.97 L381.73,1317.14 L390.35,1320.29 L398.98,1323.42 L407.60,1326.53 L416.23,1329.62 L424.85,1332.69 L433.48,1335.74 L442.10,1338.76" stroke="#1f77b4" stroke-width="3" fill="none" stroke-linecap="square"/>
<text x="76.64" y="1389.00" font-size="16.72" textLength="40.72" lengthAdjust="spacingAndGlyphs" fill="#000">2000</text>
<text x="145.64" y="1389.00" font-size="16.72" textLength="40.72" lengthAdjust="spacingAndGlyphs" fill="#000">2004</text>
<text x="214.64" y="1389.00" font-size="16.72" textLength="40.72" lengthAdjust="spacingAndGlyphs" fill="#000">2008</text>
<text x="283.64" y="1389.00" font-size="16.72" textLength="40.72" lengthAdjust="spacingAndGlyphs" fill="#000">2012</text>
<text x="352.64" y="1389.00" font-size="16.72" textLength="40.72" lengthAdjust="spacingAndGlyphs" fill="#000">2016</text>
<text x="421.64" y="1389.00" font-size="16.72" textLength="40.72" lengthAdjust="spacingAndGlyphs" fill="#000">2020</text>
<text x="16.02" y="1212.38" font-size="16.72" textLength="55.98" lengthAdjust="spacingAndGlyphs" fill="#000">18,000</text>
<text x="16.02" y="1266.53" font-size="16.72" textLength="55.98" lengthAdjust="spacingAndGlyphs" fill="#000">17,000</text>
<text x="16.02" y="1320.44" font-size="16.72" textLength="55.98" lengthAdjust="spacingAndGlyphs" fill="#000">16,000</text>
<text x="16.02" y="1374.60" font-size="16.72" textLength="55.98" lengthAdjust="spacingAndGlyphs" fill="#000">15,000</text>
<text x="121.86" y="1162.50" font-size="22.99" textLength="295.28" lengthAdjust="spacingAndGlyphs" fill="#000">90-94 excess 1,160 (7.5%)</text>
</g>
<g>
<rect x="553" y="1174" width="379" height="195" fill="#e5e5e5"/>
<clipPath id="c41"><rect x="553" y="1174" width="379" height="195"/></clipPath>
<path d="M570.00,1174V1369M639.00,1174V1369M708.00,1174V1369M777.00,1174V1369M846.00,1174V1369M915.00,1174V1369M553,1197H932M553,1243H932M553,1290H932M553,1336H932" stroke="#b0b0b0" stroke-width="1.6" fill="none" clip-path="url(#c41)"/>
<circle cx="570.50" cy="1200.50" r="4.3" fill="#1f77b4"/>
<circle cx="587.50" cy="1251.50" r="4.3" fill="#1f77b4"/>
<circle cx="604.50" cy="1183.50" r="4.3" fill="#1f77b4"/>
<circle cx="622.50" cy="1210.50" r="4.3" fill="#1f77b4"/>
<circle cx="639.50" cy="1268.50" r="4.3" fill="#1f77b4"/>
<circle cx="656.50" cy="1276.50" r="4.3" fill="#1f77b4"/>
<circle cx="673.50" cy="1237.50" r="4.3" fill="#1f77b4"/>
<circle cx="691.50" cy="1229.50" r="4.3" fill="#1f77b4"/>
<circle cx="708.50" cy="1258.50" r="4.3" fill="#1f77b4"/>
<circle cx="725.50" cy="1261.50" r="4.3" fill="#1f77b4"/>
<circle cx="742.50" cy="1301.50" r="4.3" fill="#1f77b4"/>
<circle cx="760.50" cy="1279.50" r="4.3" fill="#1f77b4"/>
<circle cx="777.50" cy="1232.50" r="4.3" fill="#1f77b4"/>
<circle cx="794.50" cy="1269.50" r="4.3" fill="#1f77b4"/>
<circle cx="811.50" cy="1318.50" r="4.3" fill="#1f77b4"/>
<circle cx="829.50" cy="1299.50" r="4.3" fill="#1f77b4"/>
<circle cx="846.50" cy="1307.50" r="4.3" fill="#1f77b4"/>
<circle cx="863.50" cy="1252.50" r="4.3" fill="#1f77b4"/>
<circle cx="880.50" cy="1282.50" r="4.3" fill="#1f77b4"/>
<circle cx="898.50" cy="1361.50" r="4.3" fill="#1f77b4"/>
<circle cx="915.50" cy="1256.50" r="6.5" fill="#ff7f0e"/>
<circle cx="915.50" cy="1319.50" r="6.5" fill="#2ca02c"/>
<path d="M569.85,1214.21 L578.48,1216.72 L587.10,1219.24 L595.73,1221.76 L604.35,1224.29 L612.98,1226.82 L621.60,1229.36 L630.23,1231.91 L638.85,1234.45 L647.48,1237.01 L656.10,1239.57 L664.73,1242.13 L673.35,1244.70 L681.98,1247.28 L690.60,1249.86 L699.23,1252.44 L707.85,1255.04 L716.48,1257.63 L725.10,1260.24 L733.73,1262.84 L742.35,1265.46 L750.98,1268.08 L759.60,1270.70 L768.23,1273.33 L776.85,1275.97 L785.48,1278.61 L794.10,1281.26 L802.73,1283.91 L811.35,1286.57 L819.98,1289.23 L828.60,1291.90 L837.23,1294.58 L845.85,1297.26 L854.48,1299.95 L863.10,1302.64 L871.73,1305.34 L880.35,1308.05 L888.98,1310.76 L897.60,1313.48 L906.23,1316.20 L914.85,1318.93" stroke="#1f77b4" stroke-width="3" fill="none" stroke-linecap="square"/>
<text x="549.64" y="1389.00" font-size="16.72" textLength="40.72" lengthAdjust="spacingAndGlyphs" fill="#000">2000</text>
<text x="618.64" y="1389.00" font-size="16.72" textLength="40.72" lengthAdjust="spacingAndGlyphs" fill="#000">2004</text>
<text x="687.64" y="1389.00" font-size="16.72" textLength="40.72" lengthAdjust="spacingAndGlyphs" fill="#000">2008</text>
<text x="756.64" y="1389.00" font-size="16.72" textLength="40.72" lengthAdjust="spacingAndGlyphs" fill="#000">2012</text>
<text x="825.64" y="1389.00" font-size="16.72" textLength="40.72" lengthAdjust="spacingAndGlyphs" fill="#000">2016</text>
<text x="894.64" y="1389.00" font-size="16.72" textLength="40.72" lengthAdjust="spacingAndGlyphs" fill="#000">2020</text>
<text x="499.19" y="1203.50" font-size="16.72" textLength="45.80" lengthAdjust="spacingAndGlyphs" fill="#000">8,250</text>
<text x="499.19" y="1249.65" font-size="16.72" textLength="45.80" lengthAdjust="spacingAndGlyphs" fill="#000">8,000</text>
<text x="499.19" y="1296.43" font-size="16.72" textLength="45.80" lengthAdjust="spacingAndGlyphs" fill="#000">7,750</text>
<text x="499.19" y="1342.58" font-size="16.72" textLength="45.80" lengthAdjust="spacingAndGlyphs" fill="#000">7,500</text>
<text x="605.35" y="1162.50" font-size="22.99" textLength="274.29" lengthAdjust="spacingAndGlyphs" fill="#000">95-99 excess 340 (4.5%)</text>
</g>
<g>
<rect x="1026" y="1174" width="379" height="195" fill="#e5e5e5"/>
<clipPath id="c42"><rect x="1026" y="1174" width="379" height="195"/></clipPath>
<path d="M1043.00,1174V1369M1112.00,1174V1369M1181.00,1174V1369M1250.00,1174V1369M1319.00,1174V1369M1388.00,1174V1369M1026,1196H1405M1026,1259H1405M1026,1322H1405" stroke="#b0b0b0" stroke-width="1.6" fill="none" clip-path="url(#c42)"/>
<circle cx="1043.50" cy="1232.50" r="4.3" fill="#1f77b4"/>
<circle cx="1060.50" cy="1190.50" r="4.3" fill="#1f77b4"/>
<circle cx="1077.50" cy="1222.50" r="4.3" fill="#1f77b4"/>
<circle cx="1094.50" cy="1189.50" r="4.3" fill="#1f77b4"/>
<circle cx="1112.50" cy="1336.50" r="4.3" fill="#1f77b4"/>
<circle cx="1129.50" cy="1303.50" r="4.3" fill="#1f77b4"/>
<circle cx="1146.50" cy="1282.50" r="4.3" fill="#1f77b4"/>
<circle cx="1163.50" cy="1282.50" r="4.3" fill="#1f77b4"/>
<circle cx="1181.50" cy="1209.50" r="4.3" fill="#1f77b4"/>
<circle cx="1198.50" cy="1269.50" r="4.3" fill="#1f77b4"/>
<circle cx="1215.50" cy="1229.50" r="4.3" fill="#1f77b4"/>
<circle cx="1232.50" cy="1299.50" r="4.3" fill="#1f77b4"/>
<circle cx="1250.50" cy="1187.50" r="4.3" fill="#1f77b4"/>
<circle cx="1267.50" cy="1219.50" r="4.3" fill="#1f77b4"/>
<circle cx="1284.50" cy="1250.50" r="4.3" fill="#1f77b4"/>
<circle cx="1301.50" cy="1183.50" r="4.3" fill="#1f77b4"/>
<circle cx="1319.50" cy="1269.50" r="4.3" fill="#1f77b4"/>
<circle cx="1336.50" cy="1205.50" r="4.3" fill="#1f77b4"/>
<circle cx="1353.50" cy="1186.50" r="4.3" fill="#1f77b4"/>
<circle cx="1370.50" cy="1361.50" r="4.3" fill="#1f77b4"/>
<circle cx="1388.50" cy="1195.50" r="6.5" fill="#ff7f0e"/>
<circle cx="1388.50" cy="1237.50" r="6.5" fill="#2ca02c"/>
<path d="M1042.60,1238.59L1387.60,1236.72" stroke="#1f77b4" stroke-width="3" fill="none" stroke-linecap="square"/>
<text x="1022.64" y="1389.00" font-size="16.72" textLength="40.72" lengthAdjust="spacingAndGlyphs" fill="#000">2000</text>
<text x="1091.64" y="1389.00" font-size="16.72" textLength="40.72" lengthAdjust="spacingAndGlyphs" fill="#000">2004</text>
<text x="1160.64" y="1389.00" font-size="16.72" textLength="40.72" lengthAdjust="spacingAndGlyphs" fill="#000">2008</text>
<text x="1229.64" y="1389.00" font-size="16.72" textLength="40.72" lengthAdjust="spacingAndGlyphs" fill="#000">2012</text>
<text x="1298.64" y="1389.00" font-size="16.72" textLength="40.72" lengthAdjust="spacingAndGlyphs" fill="#000">2016</text>
<text x="1367.64" y="1389.00" font-size="16.72" textLength="40.72" lengthAdjust="spacingAndGlyphs" fill="#000">2020</text>
<text x="972.20" y="1202.50" font-size="16.72" textLength="45.80" lengthAdjust="spacingAndGlyphs" fill="#000">1,600</text>
<text x="972.20" y="1265.53" font-size="16.72" textLength="45.80" lengthAdjust="spacingAndGlyphs" fill="#000">1,550</text>
<text x="972.20" y="1328.57" font-size="16.72" textLength="45.80" lengthAdjust="spacingAndGlyphs" fill="#000">1,500</text>
<text x="1087.10" y="1162.50" font-size="22.99" textLength="256.79" lengthAdjust="spacingAndGlyphs" fill="#000">100+ excess 30 (2.1%)</text>
</g>
<text x="357.87" y="25.60" font-size="31.35" textLength="710.45" lengthAdjust="spacingAndGlyphs" fill="#000">Sweden Excess Mortality by Age Group in 2020</text>
<text x="384.01" y="52.50" font-size="25.08" textLength="657.38" lengthAdjust="spacingAndGlyphs" fill="#000">totals - actual: 98k prediction: 91.5k excess: 6.5k (7%)</text>
<text x="1442.00" y="28.70" font-size="20.90" textLength="219.10" lengthAdjust="spacingAndGlyphs" fill="#000">y-values are mortality</text>
<text x="1442.00" y="50.90" font-size="20.90" textLength="269.20" lengthAdjust="spacingAndGlyphs" fill="#000">rates of given year applied</text>
<text x="1442.00" y="73.10" font-size="20.90" textLength="190.12" lengthAdjust="spacingAndGlyphs" fill="#000">to 2020 population</text>
<rect x="1425" y="126" width="142.5" height="51" rx="3.2" ry="3.2" fill="#ebebeb" stroke="#d3d3d3" stroke-width="2"/>
<circle cx="1449.5" cy="140.5" r="6.5" fill="#ff7f0e"/>
<circle cx="1449.5" cy="163.5" r="6.5" fill="#2ca02c"/>
<text x="1478.80" y="144.70" font-size="17.14" textLength="50.50" lengthAdjust="spacingAndGlyphs" fill="#000">actual</text>
<text x="1478.80" y="167.70" font-size="17.14" textLength="82.28" lengthAdjust="spacingAndGlyphs" fill="#000">prediction</text>
<text x="900.00" y="1427.90" font-size="22.99" textLength="473.29" lengthAdjust="spacingAndGlyphs" fill="#999999">Created by Teddy Petrou - dunderdata.com</text>
</svg>
</body></html>
